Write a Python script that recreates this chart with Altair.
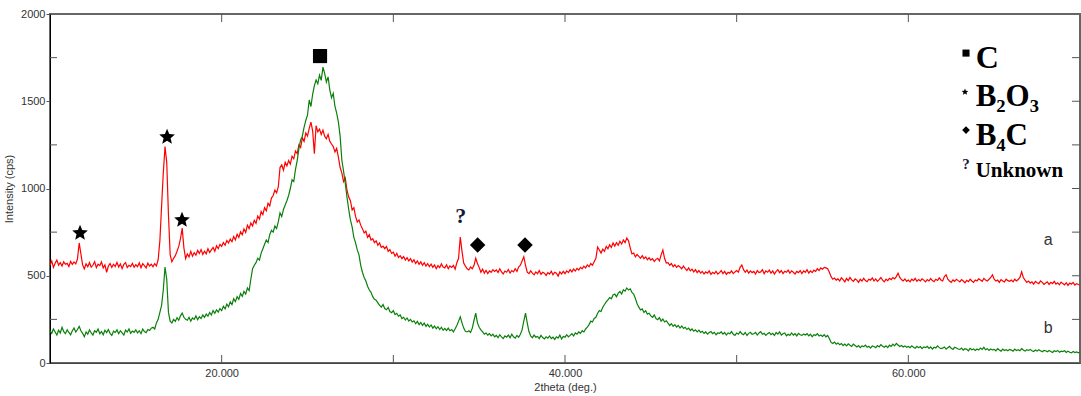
import altair as alt
import pandas as pd

# ---------------- data ----------------
X_START = 10.0   # 2theta of first sample (deg.)
X_STEP = 0.1     # sampling step (deg.)

# curve a (red), intensity in cps, one row per degree (x.0 .. x.9)
red_a = [
    560, 585, 548, 572, 590, 561, 575, 556, 580, 566,
    571, 553, 582, 565, 579, 568, 596, 688, 625, 562,
    540, 568, 552, 575, 549, 560, 581, 547, 566, 558,
    579, 545, 562, 520, 556, 570, 548, 566, 553, 577,
    550, 568, 541, 565, 575, 547, 560, 553, 571, 549,
    563, 552, 574, 546, 569, 558, 545, 572, 556, 566,
    551, 570, 556, 592, 700, 900, 1090, 1240, 1150, 850,
    620, 580, 600, 615, 640, 668, 712, 773, 660, 598,
    625, 608, 640, 612, 632, 618, 645, 628, 650, 622,
    641, 625, 655, 633, 648, 662, 640, 672, 655, 680,
    668, 690, 675, 702, 688, 710, 695, 725, 706, 738,
    720, 752, 735, 768, 748, 790, 770, 802, 785, 818,
    800, 842, 825, 868, 850, 890, 872, 915, 900, 945,
    960, 990, 975, 1010, 1120, 1135, 1105, 1150, 1130, 1160,
    1140, 1185, 1170, 1215, 1200, 1250, 1235, 1290, 1270, 1318,
    1300, 1345, 1380, 1330, 1200, 1360, 1325, 1340, 1310, 1335,
    1300, 1285, 1310, 1270, 1255, 1240, 1210, 1230, 1180, 1120,
    1090, 1040, 1060, 990, 951, 930, 877, 890, 840, 808,
    820, 790, 770, 745, 755, 720, 735, 705, 712, 690,
    700, 675, 688, 662, 670, 655, 668, 640, 650, 628,
    635, 612, 628, 605, 615, 598, 610, 590, 604, 585,
    598, 578, 592, 570, 585, 566, 580, 560, 575, 556,
    570, 552, 566, 548, 562, 540, 558, 546, 568, 550,
    545, 563, 540, 556, 548, 560, 538, 575, 600, 722,
    640, 573, 555, 540, 533, 550, 540, 560, 600, 570,
    548, 520, 538, 515, 530, 512, 528, 520, 535, 525,
    533, 518, 540, 522, 510, 527, 520, 536, 515, 530,
    522, 540, 525, 550, 560, 585, 609, 560, 520, 512,
    528, 515, 505, 522, 512, 530, 508, 520, 515, 502,
    518, 510, 526, 505, 520, 515, 498, 522, 510, 525,
    512, 528, 518, 535, 522, 538, 527, 542, 533, 548,
    540, 555, 545, 562, 552, 570, 560, 580, 600, 665,
    648, 630, 652, 640, 668, 655, 678, 662, 688, 670,
    690, 675, 698, 682, 705, 690, 716, 700, 660, 625,
    630, 608, 622, 611, 600, 615, 598, 608, 592, 603,
    590, 598, 582, 594, 600, 585, 620, 648, 600, 573,
    575, 560, 570, 552, 563, 548, 558, 550, 540, 555,
    542, 530, 545, 528, 538, 522, 535, 518, 530, 515,
    525, 510, 522, 515, 528, 508, 520, 512, 525, 510,
    518, 530, 512, 525, 508, 520, 515, 528, 512, 522,
    530, 520, 548, 562, 535, 520, 532, 515, 528, 518,
    525, 510, 530, 518, 522, 535, 512, 528, 520, 532,
    515, 528, 510, 525, 535, 518, 530, 512, 526, 520,
    532, 515, 528, 520, 510, 525, 518, 530, 512, 528,
    520, 535, 515, 528, 518, 532, 525, 540, 530, 545,
    538, 548, 545, 540, 520, 495, 480, 487, 475, 482,
    470, 488, 478, 465, 485, 472, 490, 476, 468, 482,
    475, 462, 480, 470, 485, 472, 466, 480, 475, 488,
    470, 482, 468, 478, 490, 475, 465, 480, 472, 485,
    478, 490, 482, 495, 515, 490, 478, 470, 482, 468,
    475, 465, 480, 472, 485, 468, 478, 470, 482, 475,
    465, 478, 470, 484, 472, 466, 480, 473, 488, 476,
    470, 495, 505, 480, 470, 462, 476, 468, 480, 472,
    465, 478, 470, 460, 474, 466, 480, 470, 462, 476,
    470, 482, 475, 468, 485, 476, 470, 480, 490, 505,
    480, 470, 475, 462, 478, 470, 465, 480, 472, 468,
    475, 465, 480, 470, 478, 490, 522, 490, 475, 462,
    470, 458, 465, 452, 468, 460, 455, 470, 462, 450,
    458, 465, 450, 462, 455, 468, 452, 460, 448, 463,
    455, 448, 460, 445, 458, 452, 462, 447, 455, 450,
    447,
]

# curve b (green), intensity in cps
green_b = [
    185, 170, 195, 178, 160, 188, 172, 205, 180, 168,
    190, 175, 162, 185, 200, 178, 192, 210, 185, 170,
    150, 178, 165, 190, 172, 160, 185, 176, 195, 168,
    180, 162, 188, 174, 192, 170, 158, 182, 175, 190,
    168, 185, 172, 160, 188, 178, 195, 170, 183, 176,
    190, 172, 185, 168, 195, 180, 174, 192, 186, 200,
    205, 195, 230, 250, 290, 330, 420, 550, 480, 290,
    240, 229, 250, 238, 260, 245, 270, 286, 262, 250,
    245, 262, 240, 258, 250, 270, 248, 265, 255, 275,
    262, 280, 268, 290, 275, 300, 285, 305, 292, 312,
    300, 325, 310, 338, 322, 350, 335, 368, 352, 380,
    365, 398, 382, 410, 395, 430, 415, 480, 540, 560,
    575, 600, 590, 630, 655, 680, 705, 690, 735, 760,
    750, 785, 770, 810, 860, 840, 880, 905, 930, 960,
    1000, 1050, 1040, 1110, 1160, 1230, 1278, 1300, 1350, 1390,
    1420, 1507, 1470, 1540, 1590, 1622, 1600, 1650, 1620, 1696,
    1660, 1610, 1640, 1564, 1520, 1545, 1470, 1432, 1380, 1300,
    1163, 1100, 1030, 950, 880, 820, 780, 720, 688, 648,
    620, 560, 520, 490, 470, 440, 418, 405, 380, 365,
    360, 345, 330, 321, 335, 312, 305, 318, 295, 288,
    300, 278, 285, 268, 275, 255, 262, 246, 258, 240,
    250, 235, 242, 225, 238, 220, 232, 215, 228, 210,
    222, 206, 218, 200, 212, 196, 208, 192, 205, 188,
    198, 186, 200, 185, 192, 178, 196, 215, 240, 264,
    230, 200, 182, 178, 185, 175, 200, 245, 286, 230,
    205, 190, 178, 165, 172, 160, 168, 155, 165, 150,
    158, 145, 162, 150, 140, 155, 148, 160, 145, 165,
    150, 142, 158, 148, 165, 190, 240, 286, 230, 180,
    155, 145, 160, 148, 152, 140, 158, 146, 138, 150,
    142, 155, 140, 148, 135, 150, 143, 160, 138, 152,
    148, 162, 150, 158, 168, 155, 172, 165, 178, 170,
    185, 178, 195, 205, 220, 240, 235, 255, 262, 285,
    300, 295, 320, 335, 350, 362, 375, 368, 390, 395,
    380, 400, 410, 395, 420, 412, 430, 418, 425, 405,
    395, 370, 340, 320, 304, 310, 290, 300, 280, 285,
    270, 262, 275, 255, 248, 260, 240, 252, 235, 242,
    228, 215, 225, 210, 220, 206, 215, 200, 212, 198,
    205, 192, 200, 186, 195, 182, 190, 178, 188, 175,
    182, 170, 178, 165, 175, 180, 168, 176, 162, 172,
    170, 178, 165, 175, 160, 172, 168, 180, 165, 158,
    172, 165, 180, 168, 162, 175, 158, 170, 176, 164,
    168, 175, 160, 172, 180, 165, 170, 158, 168, 175,
    162, 170, 158, 175, 165, 178, 160, 168, 172, 156,
    165, 158, 172, 160, 168, 155, 170, 162, 158, 166,
    160, 168, 155, 165, 150, 162, 158, 168, 155, 160,
    152, 162, 150, 158, 140, 118, 112, 120, 108, 115,
    105, 112, 100, 108, 98, 110, 102, 95, 108, 100,
    92, 100, 88, 98, 94, 102, 90, 96, 85, 98,
    95, 88, 100, 92, 105, 96, 90, 98, 88, 102,
    95, 108, 98, 112, 103, 95, 100, 92, 98, 90,
    95, 88, 98, 90, 85, 96, 88, 94, 82, 92,
    88, 95, 84, 92, 80, 90, 86, 98, 88, 82,
    85, 92, 80, 88, 95, 84, 78, 90, 86, 80,
    78, 85, 74, 82, 78, 70, 84, 76, 80, 72,
    80, 74, 86, 78, 90, 76, 82, 72, 80, 75,
    78, 70, 82, 74, 68, 80, 72, 76, 70, 78,
    74, 68, 80, 72, 76, 70, 82, 74, 68, 76,
    72, 78, 70, 66, 74, 68, 76, 70, 64, 72,
    70, 64, 72, 66, 60, 70, 65, 72, 62, 68,
    65, 70, 60, 68, 62, 58, 66, 60, 64, 58,
    63,
]

# phase markers (2theta, cps)
star_x = [11.75, 16.82, 17.69]
star_y = [745, 1295, 819]
diamond_x = [34.91, 37.67]
diamond_y = [676, 676]
square_x = [25.73]
square_y = [1759]
unknown_x = [33.92]
unknown_y = [840]

# curve labels
curve_label_text = ["a", "b"]
curve_label_x = [68.15, 68.15]
curve_label_y = [705, 200]

# legend (upper right)
legend_labels = ["C", "B\u2082O\u2083", "B\u2084C", "Unknown"]
legend_text_x = [63.92, 63.92, 63.92, 63.92]
legend_text_y = [1690, 1473, 1249, 1066]
legend_font = [32, 31, 31, 21]
legend_sq_x, legend_sq_y = [63.36], [1776]
legend_star_x, legend_star_y = [63.3], [1553]
legend_dia_x, legend_dia_y = [63.36], [1335]
legend_q_x, legend_q_y = [63.36], [1110]

x_ticks_major = [20, 40, 60]
x_ticks_all = [20, 30, 40, 50, 60]
y_ticks_major = [0, 500, 1000, 1500, 2000]
y_ticks_minor = [250, 750, 1250, 1750]
y_ticks_all = [250, 500, 750, 1000, 1250, 1500, 1750]

# ---------------- build ----------------
n = len(red_a)
two_theta = [round(X_START + i * X_STEP, 2) for i in range(n)]
df = pd.DataFrame({"tt": two_theta, "a": red_a, "b": green_b})

W, H = 1030, 349
x_scale = alt.Scale(domain=[10, 70], nice=False, zero=False)
y_scale = alt.Scale(domain=[0, 2000], nice=False, zero=False)
TICK = "#555555"
LAB = "Liberation Sans"
STAR = ("M0,-1 L0.265,-0.364 L0.951,-0.309 L0.428,0.139 L0.588,0.809 "
        "L0,0.45 L-0.588,0.809 L-0.428,0.139 L-0.951,-0.309 L-0.265,-0.364 Z")

ax_bottom = alt.Axis(orient="bottom", values=x_ticks_major, format=".3f",
                     title="2theta (deg.)", ticks=False, grid=False,
                     domain=True, domainColor="#444444", domainWidth=1,
                     labelFont=LAB, labelFontSize=11, labelColor="#333333",
                     labelPadding=4, titleFont=LAB, titleFontSize=11,
                     titleFontWeight="normal", titleColor="#333333",
                     titlePadding=3)
ax_left = alt.Axis(orient="left", values=y_ticks_major, format="d",
                   title="Intensity (cps)", grid=False, domain=True,
                   domainColor="#000000", domainWidth=1, tickSize=4,
                   tickColor=TICK, labelFont=LAB, labelFontSize=11,
                   labelColor="#333333", labelPadding=1, titleFont=LAB,
                   titleFontSize=11, titleFontWeight="normal",
                   titleColor="#333333", titlePadding=6)

XN = dict(scale=x_scale, axis=None)
YN = dict(scale=y_scale, axis=None)

red = alt.Chart(df).mark_line(color="#ff0000", strokeWidth=1.2).encode(
    x=alt.X("tt:Q", scale=x_scale, axis=ax_bottom),
    y=alt.Y("a:Q", scale=y_scale, axis=ax_left),
)
green = alt.Chart(df).mark_line(color="#0a800a", strokeWidth=1.2).encode(
    x=alt.X("tt:Q", **XN),
    y=alt.Y("b:Q", **YN),
)

# inward tick marks (frame decoration, placed at the tick values)
xt = pd.DataFrame({"v": x_ticks_all})
ticks_bottom = alt.Chart(xt).mark_rule(color=TICK, strokeWidth=1).encode(
    x=alt.X("v:Q", **XN), y=alt.value(H), y2=alt.value(H - 8))
ticks_top = alt.Chart(xt).mark_rule(color=TICK, strokeWidth=1).encode(
    x=alt.X("v:Q", **XN), y=alt.value(0), y2=alt.value(8))
ticks_left = alt.Chart(pd.DataFrame({"v": y_ticks_minor})).mark_rule(
    color=TICK, strokeWidth=1).encode(
    y=alt.Y("v:Q", **YN), x=alt.value(0), x2=alt.value(7))
ticks_right = alt.Chart(pd.DataFrame({"v": y_ticks_all})).mark_rule(
    color=TICK, strokeWidth=1).encode(
    y=alt.Y("v:Q", **YN), x=alt.value(W), x2=alt.value(W - 8))


def pts(xs, ys, shape, size):
    return alt.Chart(pd.DataFrame({"px": xs, "py": ys})).mark_point(
        shape=shape, filled=True, color="black", opacity=1, size=size).encode(
        x=alt.X("px:Q", **XN),
        y=alt.Y("py:Q", **YN),
    )


stars = pts(star_x, star_y, STAR, 270)
diamonds = pts(diamond_x, diamond_y, "diamond", 240)
square = pts(square_x, square_y, "square", 200)
leg_sq = pts(legend_sq_x, legend_sq_y, "square", 50)
leg_star = pts(legend_star_x, legend_star_y, STAR, 50)
leg_dia = pts(legend_dia_x, legend_dia_y, "diamond", 60)


def txt(xs, ys, texts, **kw):
    return alt.Chart(pd.DataFrame({"px": xs, "py": ys, "t": texts})).mark_text(**kw).encode(
        x=alt.X("px:Q", **XN),
        y=alt.Y("py:Q", **YN),
        text="t:N",
    )


unknown = txt(unknown_x, unknown_y, ["?"], font="Liberation Serif",
              fontWeight="bold", fontSize=22, color="#15183a",
              baseline="middle", align="center")
leg_q = txt(legend_q_x, legend_q_y, ["?"], font="Liberation Serif",
            fontWeight="bold", fontSize=15, color="#15183a",
            baseline="alphabetic", align="center")
curve_labels = txt(curve_label_x, curve_label_y, curve_label_text, font=LAB,
                   fontSize=16, color="#333333", baseline="middle", align="center")

leg_text = alt.Chart(pd.DataFrame({"px": legend_text_x, "py": legend_text_y,
                                   "t": legend_labels, "fs": legend_font})).mark_text(
    font="Liberation Serif", fontWeight="bold", color="#000000",
    baseline="alphabetic", align="left").encode(
    x=alt.X("px:Q", **XN),
    y=alt.Y("py:Q", **YN),
    text="t:N",
    size=alt.Size("fs:Q", scale=None, legend=None),
)

chart = alt.layer(
    red, green, ticks_bottom, ticks_top, ticks_left, ticks_right,
    stars, diamonds, square, unknown, curve_labels,
    leg_sq, leg_star, leg_dia, leg_q, leg_text,
).resolve_axis(x="independent", y="independent").properties(
    width=W, height=H,
    autosize=alt.AutoSizeParams(type="none"),
    padding={"left": 50, "top": 14, "right": 1, "bottom": 33},
    background="white",
).configure_view(stroke="#666666", strokeWidth=2)

chart.save("out.html", embed_options={"renderer": "svg", "actions": False})
